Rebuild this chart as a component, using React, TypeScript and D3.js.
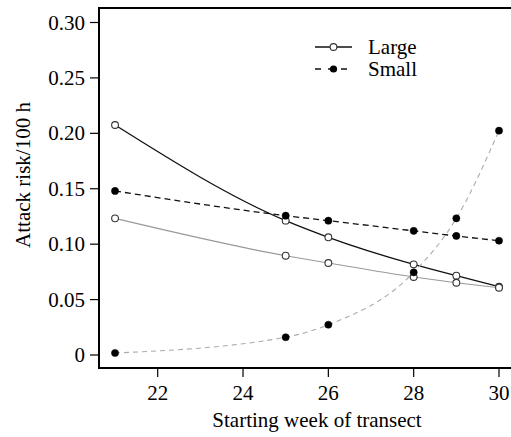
import React from "react";
import * as d3 from "d3";

const weeks = [21, 25, 26, 28, 29, 30];
const largeA = [0.2075, 0.1212, 0.1062, 0.0818, 0.0716, 0.0616];
const smallA = [0.148, 0.1257, 0.1212, 0.112, 0.1074, 0.1031];
const largeB = [0.1233, 0.0896, 0.083, 0.0704, 0.0652, 0.0607];
const smallB = [0.0018, 0.016, 0.0273, 0.0746, 0.1233, 0.2024];
const yTicks = [0, 0.05, 0.1, 0.15, 0.2, 0.25, 0.3];
const yTickLabels = ["0", "0.05", "0.10", "0.15", "0.20", "0.25", "0.30"];
const xTicks = [22, 24, 26, 28, 30];

const W = 511;
const H = 437;
const FONT = "Liberation Serif";
const FS = 21;

export default function App() {
  const x = d3.scaleLinear().domain([22, 30]).range([157.7, 499]);
  const y = d3.scaleLinear().domain([0, 0.3]).range([355, 22.5]);
  const left = 99;
  const bottom = 368;
  const top = 8;

  const line = d3
    .line<[number, number]>()
    .x((d) => x(d[0]))
    .y((d) => y(d[1]))
    .curve(d3.curveMonotoneX);

  const series = [
    { vals: largeA, color: "#111", dash: undefined, open: true, width: 1.3 },
    { vals: smallA, color: "#111", dash: "6,4", open: false, width: 1.3 },
    { vals: largeB, color: "#999", dash: undefined, open: true, width: 1.1 },
    { vals: smallB, color: "#aaa", dash: "5,4", open: false, width: 1.1 },
  ];

  const textStyle = { fontFamily: FONT, fontSize: FS };

  return (
    <svg
      width={W}
      height={H}
      style={{ position: "absolute", left: 0, top: 0, background: "#fff" }}
    >
      <rect x={0} y={0} width={W} height={H} fill="#fff" />
      {series.map((s, i) => (
        <path
          key={"l" + i}
          d={line(weeks.map((w, j) => [w, s.vals[j]]) as [number, number][]) || ""}
          fill="none"
          stroke={s.color}
          strokeWidth={s.width}
          strokeDasharray={s.dash}
        />
      ))}
      {series.map((s, i) =>
        weeks.map((w, j) => (
          <circle
            key={"m" + i + "-" + j}
            cx={x(w)}
            cy={y(s.vals[j])}
            r={s.open ? 3.4 : 3.6}
            fill={s.open ? "#fff" : "#000"}
            stroke={s.open ? "#333" : "#000"}
            strokeWidth={s.open ? 1.1 : 0.5}
          />
        ))
      )}
      <line x1={left} x2={W + 5} y1={top} y2={top} stroke="#000" strokeWidth={2} />
      <line x1={left} x2={left} y1={top - 1} y2={bottom + 1} stroke="#000" strokeWidth={2} />
      <line x1={left - 1} x2={W + 5} y1={bottom} y2={bottom} stroke="#000" strokeWidth={2} />
      {yTicks.map((t, i) => (
        <g key={"yt" + i}>
          <line x1={left - 9} x2={left} y1={y(t)} y2={y(t)} stroke="#000" strokeWidth={1.2} />
          <text x={left - 14} y={y(t)} dy="0.34em" textAnchor="end" style={textStyle} fill="#000">
            {yTickLabels[i]}
          </text>
        </g>
      ))}
      {xTicks.map((t) => (
        <g key={"xt" + t}>
          <line x1={x(t)} x2={x(t)} y1={bottom} y2={bottom + 9} stroke="#000" strokeWidth={1.2} />
          <text x={x(t)} y={400} textAnchor="middle" style={textStyle} fill="#000">
            {t}
          </text>
        </g>
      ))}
      <text x={317} y={427} textAnchor="middle" style={textStyle} fill="#000">
        Starting week of transect
      </text>
      <text transform="translate(30,175) rotate(-90)" textAnchor="middle" style={textStyle} fill="#000">
        Attack risk/100 h
      </text>
      <g>
        <line x1={315} x2={352} y1={47} y2={47} stroke="#111" strokeWidth={1.3} />
        <circle cx={333.5} cy={47} r={3.4} fill="#fff" stroke="#333" strokeWidth={1.1} />
        <text x={368} y={54} style={textStyle} fill="#000">
          Large
        </text>
        <line x1={315} x2={352} y1={69} y2={69} stroke="#111" strokeWidth={1.3} strokeDasharray="6,7" />
        <circle cx={333.5} cy={69} r={3.6} fill="#000" />
        <text x={368} y={76} style={textStyle} fill="#000">
          Small
        </text>
      </g>
    </svg>
  );
}
